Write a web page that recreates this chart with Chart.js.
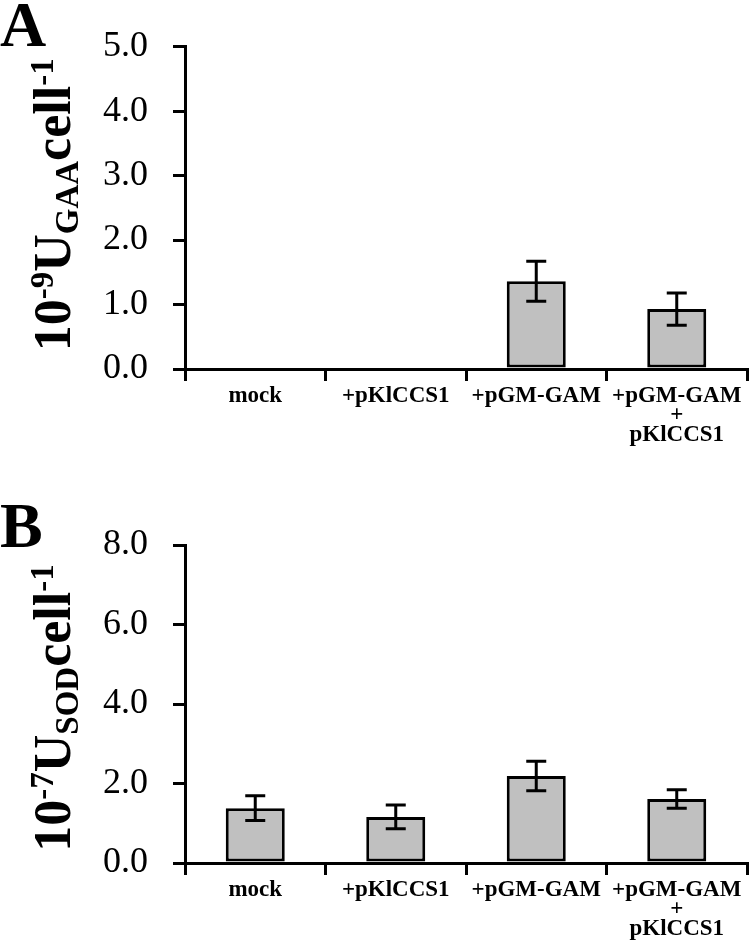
<!DOCTYPE html>
<html>
<head>
<meta charset="utf-8">
<script src="https://cdn.jsdelivr.net/npm/chart.js@4.4.1/dist/chart.umd.min.js"></script>
<style>
  body { margin: 0; background: #fff; }
  canvas { display: block; }
</style>
</head>
<body>
<canvas id="chartA" width="750" height="470"></canvas>
<canvas id="chartB" width="750" height="473"></canvas>
<script>
const categories = ['mock', '+pKlCCS1', '+pGM-GAM', ['+pGM-GAM', '+', 'pKlCCS1']];

// panel A: GAA activity
const gaaValues = [0, 0, 1.36, 0.93];
const gaaErrors = [0, 0, 0.31, 0.25];
const gaaTicks = [0, 1, 2, 3, 4, 5];

// panel B: SOD activity
const sodValues = [1.38, 1.16, 2.19, 1.61];
const sodErrors = [0.31, 0.30, 0.37, 0.23];
const sodTicks = [0, 2, 4, 6, 8];

const SERIF = '"Liberation Serif", "Times New Roman", serif';

// error bars drawn from the y scale
const errorBars = {
  id: 'errorBars',
  afterDatasetsDraw(chart, args, opts) {
    const ctx = chart.ctx;
    const y = chart.scales.y;
    const meta = chart.getDatasetMeta(0);
    const vals = chart.data.datasets[0].data;
    ctx.save();
    ctx.strokeStyle = '#000';
    ctx.lineWidth = 3;
    meta.data.forEach((bar, i) => {
      const e = opts.errors[i];
      if (!e) return;
      const top = y.getPixelForValue(vals[i] + e);
      const bot = y.getPixelForValue(vals[i] - e);
      ctx.beginPath();
      ctx.moveTo(bar.x, top); ctx.lineTo(bar.x, bot);
      ctx.moveTo(bar.x - 10, top); ctx.lineTo(bar.x + 10, top);
      ctx.moveTo(bar.x - 10, bot); ctx.lineTo(bar.x + 10, bot);
      ctx.stroke();
    });
    ctx.restore();
  }
};

// panel letter and rotated axis title with super/subscripts
const panelText = {
  id: 'panelText',
  afterDraw(chart, args, opts) {
    const ctx = chart.ctx;
    const area = chart.chartArea;
    ctx.save();
    ctx.fillStyle = '#000';
    ctx.textBaseline = 'alphabetic';
    ctx.font = 'bold 64px ' + SERIF;
    ctx.fillText(opts.letter, 0, opts.letterY);

    const big = 'bold 52px ' + SERIF;
    const small = 'bold 33px ' + SERIF;
    const parts = [
      ['10', big, 0], ['-' + opts.exp, small, -17], ['U', big, 0],
      [opts.sub, small, 8], ['cell', big, 0], ['-1', small, -17]
    ];
    let total = 0;
    parts.forEach(p => { ctx.font = p[1]; total += ctx.measureText(p[0]).width; });
    ctx.translate(70, (area.top + area.bottom) / 2 + opts.shift);
    ctx.rotate(-Math.PI / 2);
    let x = -total / 2;
    parts.forEach(p => {
      ctx.font = p[1];
      ctx.fillText(p[0], x, p[2]);
      x += ctx.measureText(p[0]).width;
    });
    ctx.restore();
  }
};

function makeChart(id, values, errors, ticks, padTop, axisHeight, letter, letterY, exp, sub, shift) {
  return new Chart(document.getElementById(id), {
    type: 'bar',
    data: {
      labels: categories,
      datasets: [{
        data: values,
        backgroundColor: '#c0c0c0',
        borderColor: '#000',
        borderWidth: 3,
        borderSkipped: false,
        categoryPercentage: 1,
        barPercentage: 0.42
      }]
    },
    options: {
      responsive: false,
      animation: false,
      layout: { padding: { top: padTop, right: 3, left: 0, bottom: 0 } },
      plugins: {
        legend: { display: false },
        tooltip: { enabled: false },
        errorBars: { errors: errors },
        panelText: { letter: letter, letterY: letterY, exp: exp, sub: sub, shift: shift }
      },
      scales: {
        x: {
          afterFit: s => { s.height = axisHeight; },
          grid: { drawOnChartArea: false, color: '#000', lineWidth: 3, tickLength: 12, offset: true },
          border: { color: '#000', width: 3 },
          ticks: {
            color: '#000', padding: 5, maxRotation: 0, autoSkip: false,
            font: { family: SERIF, size: 23, weight: 'bold', lineHeight: 0.85 }
          }
        },
        y: {
          min: ticks[0],
          max: ticks[ticks.length - 1],
          afterFit: s => { s.width = 185; },
          afterBuildTicks: s => { s.ticks = ticks.map(v => ({ value: v })); },
          grid: { drawOnChartArea: false, color: '#000', lineWidth: 3, tickLength: 12 },
          border: { color: '#000', width: 3 },
          ticks: {
            color: '#000', padding: 25,
            font: { family: SERIF, size: 36 },
            callback: v => v.toFixed(1)
          }
        }
      }
    },
    plugins: [errorBars, panelText]
  });
}

makeChart('chartA', gaaValues, gaaErrors, gaaTicks, 42, 101, 'A', 46, '9', 'GAA', -3);
makeChart('chartB', sodValues, sodErrors, sodTicks, 75, 80, 'B', 77, '7', 'SOD', 4);
</script>
</body>
</html>
